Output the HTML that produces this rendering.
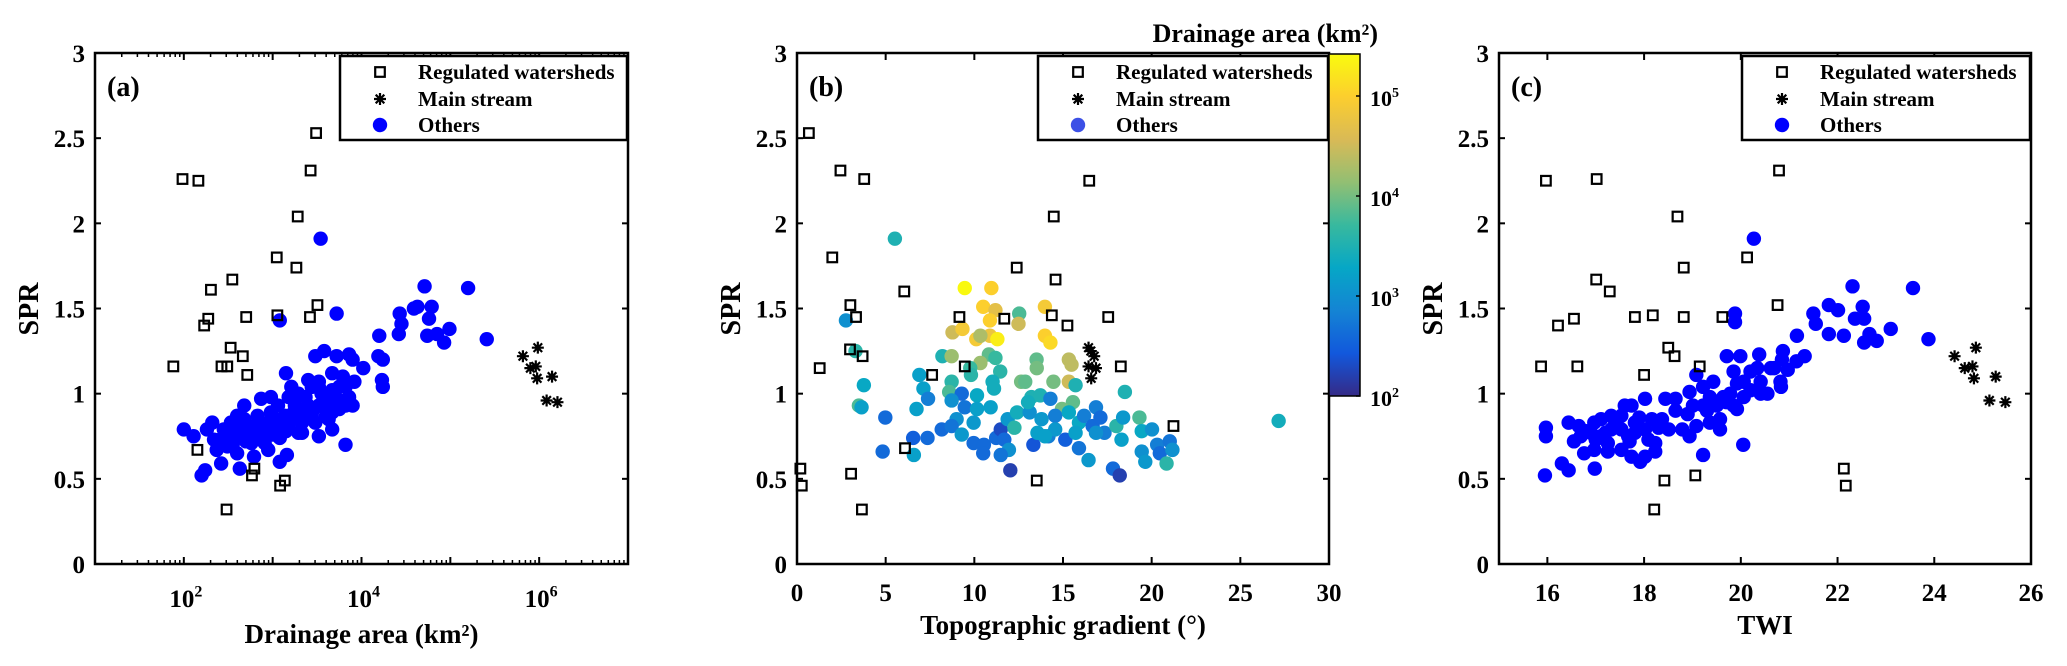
<!DOCTYPE html>
<html>
<head>
<meta charset="utf-8">
<style>
html,body{margin:0;padding:0;background:#fff;}
svg{display:block;}
text{font-family:"Liberation Serif","DejaVu Serif",serif;font-weight:bold;fill:#000;}
</style>
</head>
<body>
<svg id="fig" width="2067" height="666" viewBox="0 0 2067 666" xmlns="http://www.w3.org/2000/svg">
<defs>
<linearGradient id="parula" x1="0" y1="1" x2="0" y2="0">
<stop offset="0" stop-color="rgb(53,42,135)"/>
<stop offset="0.125" stop-color="rgb(18,88,220)"/>
<stop offset="0.25" stop-color="rgb(20,132,212)"/>
<stop offset="0.375" stop-color="rgb(6,167,198)"/>
<stop offset="0.5" stop-color="rgb(56,185,158)"/>
<stop offset="0.625" stop-color="rgb(146,191,115)"/>
<stop offset="0.75" stop-color="rgb(217,186,86)"/>
<stop offset="0.875" stop-color="rgb(252,206,46)"/>
<stop offset="1" stop-color="rgb(249,251,14)"/>
</linearGradient>
</defs>
</svg>
<script>
// ---------- Panel (a): SPR vs log10 drainage area ----------
const aRegLogArea = [1.985,2.164,3.489,3.427,3.282,3.046,3.267,2.546,2.305,2.275,2.229,2.702,3.053,3.42,3.504,1.882,2.527,2.664,2.424,2.489,2.714,2.153,2.794,2.767,3.137,3.084,2.481];
const aRegSPR = [2.26,2.25,2.53,2.31,2.04,1.80,1.74,1.67,1.61,1.44,1.40,1.45,1.46,1.45,1.52,1.16,1.27,1.22,1.16,1.16,1.11,0.67,0.56,0.52,0.49,0.46,0.32];
const aMainLogArea = [5.817,5.985,5.901,5.962,5.977,6.145,6.084,6.206];
const aMainSPR = [1.22,1.27,1.15,1.16,1.09,1.10,0.96,0.95];
const aOthLogArea = [3.54,3.08,3.72,4.71,5.20,4.59,4.63,4.79,4.76,4.43,4.45,4.42,4.20,4.74,4.85,4.99,4.93,5.41,3.15,3.82,2.00,2.11,2.20,2.24,2.42,2.63,3.08,3.16,3.67,3.90,4.24,4.23,4.24,4.19,4.02,3.90,3.86,3.72,3.58,3.48,3.92,3.82,3.67,3.52,3.44,3.37,3.29,3.18,2.98,2.87,2.68,2.32,2.26,2.37,2.60,2.79,2.95,3.08,3.29,3.52,3.60,3.75,3.86,3.60,3.44,3.29,3.14,2.98,2.83,2.68,2.53,2.45,2.41,2.56,2.72,2.87,3.02,3.18,3.33,3.48,3.63,3.75,3.82,2.76,2.91,2.64,2.79,2.95,3.10,3.25,3.40,3.52,3.67,3.79,3.75,3.33,2.49,2.34,2.60,3.06,3.21,3.40,3.52,3.67,2.50,2.58,2.66,2.74,2.82,2.90,2.98,3.06,3.14,3.22,2.55,2.70,2.85,3.00,3.15,3.30,3.45,3.62,3.70,3.55];
const aOthSPR = [1.91,1.43,1.47,1.63,1.62,1.50,1.51,1.51,1.44,1.47,1.41,1.35,1.34,1.34,1.35,1.38,1.30,1.32,1.12,0.70,0.79,0.75,0.52,0.55,0.59,0.56,0.60,0.64,0.79,0.93,1.04,1.08,1.20,1.22,1.15,1.20,1.23,1.22,1.25,1.22,1.07,1.04,1.12,1.07,1.04,0.98,1.00,0.98,0.98,0.97,0.93,0.83,0.79,0.67,0.65,0.63,0.67,0.74,0.77,0.75,0.95,0.96,0.98,0.87,0.87,0.89,0.87,0.89,0.87,0.85,0.83,0.79,0.73,0.73,0.75,0.77,0.79,0.81,0.83,0.83,0.85,0.91,0.93,0.71,0.71,0.79,0.81,0.83,0.85,0.93,0.93,0.93,1.02,1.10,1.04,0.77,0.69,0.73,0.87,0.93,1.04,1.08,1.04,0.89,0.77,0.81,0.75,0.80,0.76,0.80,0.84,0.80,0.84,0.88,0.70,0.72,0.74,0.76,0.78,0.86,0.90,0.90,0.97,1.00];

// ---------- Panel (b): SPR vs topographic gradient ----------
const bRegGrad = [0.67,2.45,3.79,16.48,14.48,1.99,12.39,14.58,6.05,3.01,3.33,9.16,11.69,14.37,15.25,17.55,2.99,3.70,1.28,7.62,9.46,18.26,21.23,6.09,3.05,0.19,0.27,13.52,3.66];
const bRegSPR = [2.53,2.31,2.26,2.25,2.04,1.80,1.74,1.67,1.60,1.52,1.45,1.45,1.44,1.46,1.40,1.45,1.26,1.22,1.15,1.11,1.16,1.16,0.81,0.68,0.53,0.56,0.46,0.49,0.32];
const bMainGrad = [16.44,16.57,16.76,16.44,16.86,16.59];
const bMainSPR = [1.27,1.25,1.22,1.16,1.15,1.09];
const bOthGrad = [5.52,2.76,3.30,3.77,3.49,3.64,4.98,4.83,6.59,6.55,7.36,6.74,6.90,7.13,7.39,8.20,8.72,8.77,9.33,9.46,10.96,10.50,11.19,10.88,10.88,11.30,10.11,10.34,12.53,12.49,13.98,13.98,14.29,10.82,11.19,10.34,9.77,9.81,11.46,8.72,8.58,9.29,8.72,10.15,11.03,11.11,9.46,10.15,10.92,9.00,8.16,8.72,9.29,9.96,9.96,10.54,10.50,11.23,11.49,11.69,11.95,11.49,12.03,11.88,12.41,12.26,13.12,13.33,13.51,13.52,12.64,12.87,13.22,13.72,13.03,14.29,14.46,15.33,15.48,15.33,15.71,15.56,14.94,14.56,13.79,13.56,14.18,15.13,15.33,15.90,16.19,15.90,16.44,16.67,16.86,17.11,17.34,18.01,18.49,18.39,18.30,17.82,18.20,19.31,19.44,20.02,19.44,19.64,20.31,20.46,21.02,21.17,20.84,27.16,16.86,14.56,15.71,13.98];
const bOthSPR = [1.91,1.43,1.25,1.05,0.93,0.92,0.86,0.66,0.64,0.74,0.74,0.91,1.11,1.03,0.97,1.22,1.22,1.36,1.38,1.62,1.62,1.51,1.49,1.43,1.34,1.32,1.32,1.34,1.47,1.41,1.51,1.34,1.30,1.23,1.21,1.18,1.15,1.11,1.13,1.07,1.01,1.00,0.96,0.99,1.07,1.03,0.92,0.91,0.92,0.85,0.79,0.81,0.76,0.83,0.71,0.70,0.65,0.74,0.79,0.73,0.67,0.64,0.55,0.85,0.89,0.80,0.89,0.70,1.20,1.15,1.07,1.07,0.98,0.99,0.95,0.97,1.07,1.20,1.17,1.07,1.05,0.95,0.91,0.87,0.85,0.77,0.75,0.73,0.89,0.83,0.87,0.68,0.61,0.81,0.92,0.86,0.77,0.81,1.01,0.86,0.73,0.56,0.52,0.86,0.78,0.79,0.66,0.60,0.70,0.65,0.72,0.67,0.59,0.84,0.77,0.79,0.77,0.75];
const bOthLogArea = [3.5,3.0,3.6,3.3,3.8,3.2,2.6,2.6,3.2,2.5,2.6,3.2,3.2,3.2,2.8,3.5,4.2,4.5,4.9,5.4,5.0,5.0,4.7,5.0,4.8,5.3,4.9,4.3,3.8,4.5,4.9,5.0,5.1,3.9,3.7,4.2,3.7,3.6,3.6,3.6,3.8,2.6,3.0,3.3,3.4,3.4,2.7,3.2,3.2,3.0,2.6,2.7,3.1,3.1,2.6,2.6,2.6,2.6,2.3,2.6,3.0,2.7,2.2,3.1,3.4,3.6,3.0,2.4,3.9,4.0,4.0,3.9,3.5,3.5,3.4,2.8,4.0,4.4,4.4,4.5,3.5,3.9,4.0,2.8,3.1,3.2,2.8,2.5,3.3,3.3,2.8,2.7,3.1,2.6,2.8,2.6,2.8,3.6,3.5,3.1,3.2,2.6,2.2,3.8,3.3,3.0,3.0,3.1,2.8,2.6,2.7,3.0,3.6,3.4,3.0,3.1,3.2,3.2];
const cbTickExp = [2,3,4,5];

// ---------- Panel (c): SPR vs TWI ----------
const cRegTWI = [15.97,17.02,20.79,18.69,20.13,18.82,17.01,17.29,16.55,16.22,17.81,18.18,18.82,19.62,20.76,15.87,16.62,18.50,18.63,18.00,19.15,22.13,22.17,18.42,19.06,18.21];
const cRegSPR = [2.25,2.26,2.31,2.04,1.80,1.74,1.67,1.60,1.44,1.40,1.45,1.46,1.45,1.45,1.52,1.16,1.16,1.27,1.22,1.11,1.16,0.56,0.46,0.49,0.52,0.32];
const cMainTWI = [24.42,24.86,24.63,24.79,24.82,25.27,25.14,25.47];
const cMainSPR = [1.22,1.27,1.15,1.16,1.09,1.10,0.96,0.95];
const cOthTWI = [20.27,22.31,23.56,21.82,22.01,22.52,22.36,22.55,21.50,21.55,21.16,21.82,22.13,22.66,22.55,22.81,23.10,23.88,19.88,19.88,21.32,21.15,20.87,20.85,20.62,20.38,20.34,19.99,19.71,19.85,20.06,20.41,20.41,20.55,20.82,20.83,19.08,19.43,19.22,18.94,18.65,18.44,18.02,19.64,20.06,19.92,19.85,19.50,19.22,19.01,18.65,18.37,18.16,19.57,19.36,19.08,18.79,18.51,19.57,18.94,19.22,20.05,18.23,18.02,17.92,17.74,17.53,17.25,16.97,16.76,16.55,16.44,16.65,15.97,15.97,15.95,16.30,16.44,16.98,17.60,17.74,17.81,17.53,17.32,17.11,16.97,16.90,16.69,17.11,17.32,17.53,17.81,18.02,18.09,17.67,17.25,18.23,19.92,20.20,20.97,20.69,20.20,19.78,19.36,17.40,17.90,17.00,16.80,18.30,18.90,19.30,19.70,17.20,17.70];
const cOthSPR = [1.91,1.63,1.62,1.52,1.49,1.51,1.44,1.44,1.47,1.41,1.34,1.35,1.34,1.35,1.30,1.31,1.38,1.32,1.47,1.42,1.22,1.19,1.25,1.20,1.15,1.23,1.15,1.22,1.22,1.13,1.07,1.07,1.00,1.00,1.07,1.04,1.11,1.07,1.04,1.01,0.97,0.97,0.97,0.98,0.98,0.91,0.93,0.93,0.93,0.93,0.90,0.85,0.85,0.85,0.83,0.81,0.79,0.79,0.79,0.75,0.64,0.70,0.66,0.63,0.60,0.63,0.67,0.66,0.67,0.65,0.72,0.83,0.81,0.80,0.75,0.52,0.59,0.55,0.56,0.93,0.93,0.83,0.87,0.87,0.85,0.83,0.77,0.75,0.75,0.79,0.79,0.77,0.79,0.73,0.75,0.71,0.71,1.06,1.13,1.14,1.15,1.02,1.00,0.98,0.82,0.86,0.73,0.78,0.80,0.88,0.90,0.95,0.77,0.72];

const yTicks = [0,0.5,1,1.5,2,2.5,3];
const yTickLabels = ['0','0.5','1','1.5','2','2.5','3'];
const bXTicks = [0,5,10,15,20,25,30];
const cXTicks = [16,18,20,22,24,26];
const aXDecades = [1,2,3,4,5,6,7];
const aXLabelExp = [2,4,6];

const NS = 'http://www.w3.org/2000/svg';
const svg = document.getElementById('fig');
const Y0 = 564, Y1 = 53;
function yScale(v){ return Y0 - (v/3)*(Y0-Y1); }
function mk(tag, attrs, parent){
  const e = document.createElementNS(NS, tag);
  for (const k in attrs) e.setAttribute(k, attrs[k]);
  (parent||svg).appendChild(e);
  return e;
}
const stops = [[53,42,135],[18,88,220],[20,132,212],[6,167,198],[56,185,158],[146,191,115],[217,186,86],[252,206,46],[249,251,14]];
function parula(t){
  t = Math.max(0, Math.min(1, t));
  const s = t*(stops.length-1), i = Math.min(stops.length-2, Math.floor(s)), f = s-i;
  const c = stops[i].map((v,k)=>Math.round(v+(stops[i+1][k]-v)*f));
  return 'rgb('+c.join(',')+')';
}
function drawSquare(g, x, y){
  const e = mk('rect', {x:x-4.8, y:y-4.8, width:9.6, height:9.6, fill:'none', stroke:'#000', 'stroke-width':2.2}, g);
  
  
}
function drawStar(g, x, y){
  const r = 6, d = 4.3;
  const e = mk('path', {d:`M${x-r} ${y}H${x+r}M${x} ${y-r}V${y+r}M${x-d} ${y-d}L${x+d} ${y+d}M${x-d} ${y+d}L${x+d} ${y-d}`, stroke:'#000', 'stroke-width':2.2, fill:'none'}, g);
  
  
}
function drawDot(g, x, y, color){
  const e = mk('circle', {cx:x, cy:y, r:7.2, fill:color}, g);
  
  
}
function addText(str, attrs, parent){
  const t = mk('text', attrs, parent);
  t.textContent = str;
  return t;
}
function powText(g, x, y, base, exp, size, anchor){
  const t = mk('text', {x:x, y:y, 'font-size':size, 'text-anchor':anchor||'middle'}, g);
  const t1 = mk('tspan', {}, t); t1.textContent = base;
  const t2 = mk('tspan', {'font-size':Math.round(size*0.62), dy:-size*0.42}, t); t2.textContent = exp;
  return t;
}

function panel(opt){
  const g = mk('g', {});
  
  
  const X0 = opt.x0, X1 = opt.x1;
  const xs = v => X0 + (v-opt.xmin)/(opt.xmax-opt.xmin)*(X1-X0);
  const yAx = mk('g', {}, g);
  
  
  yTicks.forEach((v,i)=>{
    const y = yScale(v);
    mk('line', {x1:X0, y1:y, x2:X0+6, y2:y, stroke:'#000','stroke-width':2}, yAx);
    mk('line', {x1:X1, y1:y, x2:X1-6, y2:y, stroke:'#000','stroke-width':2}, yAx);
    const t = addText(yTickLabels[i], {x:X0-10, y:y+9, 'font-size':25, 'text-anchor':'end'}, yAx);
    
    
  });
  const yt = addText('SPR', {x:0, y:0, 'font-size':28, 'text-anchor':'middle', transform:`translate(${opt.ylabX},309) rotate(-90)`}, g);
  
  
  const xAx = mk('g', {}, g);
  
  
  opt.xticks(xAx, xs);
  const xt = addText(opt.xTitle, {x:(X0+X1)/2, y:opt.xTitleY, 'font-size':27, 'text-anchor':'middle'}, g);
  
  
  const dg = mk('g', {}, g);
  
  
  opt.oth[0].forEach((v,i)=>drawDot(dg, xs(v), yScale(opt.oth[1][i]), opt.color ? opt.color(i) : '#0000ff'));
  opt.reg[0].forEach((v,i)=>drawSquare(dg, xs(v), yScale(opt.reg[1][i])));
  opt.main[0].forEach((v,i)=>drawStar(dg, xs(v), yScale(opt.main[1][i])));
  const fr = mk('rect', {x:X0, y:Y1, width:X1-X0, height:Y0-Y1, fill:'none', stroke:'#000', 'stroke-width':2.5}, g);
  
  
  const pl = addText(opt.letter, {x:X0+12, y:96, 'font-size':28}, g);
  
  
  const lg = mk('g', {}, g);
  
  
  const lx = opt.legX;
  mk('rect', {x:lx, y:56, width:X1-1-lx, height:84, fill:'#fff', stroke:'#000', 'stroke-width':2.5}, lg);
  const rows = [72, 99, 125];
  const e1 = mk('g', {}, lg);  
  drawSquare(e1, lx+40, rows[0]);
  addText('Regulated watersheds', {x:lx+78, y:rows[0]+7, 'font-size':21}, e1);
  const e2 = mk('g', {}, lg);  
  drawStar(e2, lx+40, rows[1]);
  addText('Main stream', {x:lx+78, y:rows[1]+7, 'font-size':21}, e2);
  const e3 = mk('g', {}, lg);  
  drawDot(e3, lx+40, rows[2], opt.legendDot || '#0000ff');
  addText('Others', {x:lx+78, y:rows[2]+7, 'font-size':21}, e3);
}

panel({
  name:'panel-a-drainage-area', x0:95, x1:628, xmin:1, xmax:7, letter:'(a)', legX:340, ylabX:38,
  xTitle:'Drainage area (km²)', xTitleY:643,
  reg:[aRegLogArea, aRegSPR], main:[aMainLogArea, aMainSPR], oth:[aOthLogArea, aOthSPR],
  xticks:(g, xs)=>{
    aXDecades.forEach(d=>{
      const x = xs(d);
      mk('line', {x1:x, y1:Y0, x2:x, y2:Y0-7, stroke:'#000','stroke-width':2}, g);
      mk('line', {x1:x, y1:Y1, x2:x, y2:Y1+7, stroke:'#000','stroke-width':2}, g);
      if (d < 7) for (let m=2; m<=9; m++){
        const xm = xs(d+Math.log10(m));
        mk('line', {x1:xm, y1:Y0, x2:xm, y2:Y0-4, stroke:'#000','stroke-width':1.5}, g);
        mk('line', {x1:xm, y1:Y1, x2:xm, y2:Y1+4, stroke:'#000','stroke-width':1.5}, g);
      }
    });
    aXLabelExp.forEach(e=>{
      const t = powText(g, xs(e)+2, 607, '10', String(e), 25);
      
      
    });
  }
});

const cbT = v => (v-2)/3.42;
panel({
  name:'panel-b-topographic-gradient', x0:797, x1:1329, xmin:0, xmax:30, letter:'(b)', legX:1038, ylabX:740,
  xTitle:'Topographic gradient (°)', xTitleY:634, legendDot:'rgb(60,80,230)',
  reg:[bRegGrad, bRegSPR], main:[bMainGrad, bMainSPR], oth:[bOthGrad, bOthSPR],
  color:i=>parula(cbT(bOthLogArea[i])),
  xticks:(g, xs)=>{
    bXTicks.forEach(v=>{
      const x = xs(v);
      mk('line', {x1:x, y1:Y0, x2:x, y2:Y0-7, stroke:'#000','stroke-width':2}, g);
      mk('line', {x1:x, y1:Y1, x2:x, y2:Y1+7, stroke:'#000','stroke-width':2}, g);
      const t = addText(String(v), {x:x, y:601, 'font-size':25, 'text-anchor':'middle'}, g);
      
      
    });
  }
});

(function(){
  const g = mk('g', {});
  
  
  const cx0 = 1329, cx1 = 1360, ct = 54, cb = 396;
  mk('rect', {x:cx0, y:ct, width:cx1-cx0, height:cb-ct, fill:'url(#parula)', stroke:'#000', 'stroke-width':1.5}, g);
  const cy = e => cb - cbT(e)*(cb-ct);
  cbTickExp.forEach(e=>{
    const y = cy(e);
    mk('line', {x1:cx1, y1:y, x2:cx1-4, y2:y, stroke:'#000','stroke-width':1.5}, g);
    const t = powText(g, cx1+10, y+10, '10', String(e), 22, 'start');
    
    
  });
  const tt = addText('Drainage area (km²)', {x:1378, y:42, 'font-size':26, 'text-anchor':'end'}, g);
  
  
})();

panel({
  name:'panel-c-twi', x0:1499, x1:2031, xmin:15, xmax:26, letter:'(c)', legX:1742, ylabX:1442,
  xTitle:'TWI', xTitleY:634,
  reg:[cRegTWI, cRegSPR], main:[cMainTWI, cMainSPR], oth:[cOthTWI, cOthSPR],
  xticks:(g, xs)=>{
    cXTicks.forEach(v=>{
      const x = xs(v);
      mk('line', {x1:x, y1:Y0, x2:x, y2:Y0-7, stroke:'#000','stroke-width':2}, g);
      mk('line', {x1:x, y1:Y1, x2:x, y2:Y1+7, stroke:'#000','stroke-width':2}, g);
      const t = addText(String(v), {x:x, y:601, 'font-size':25, 'text-anchor':'middle'}, g);
      
      
    });
  }
});
</script>
</body>
</html>
